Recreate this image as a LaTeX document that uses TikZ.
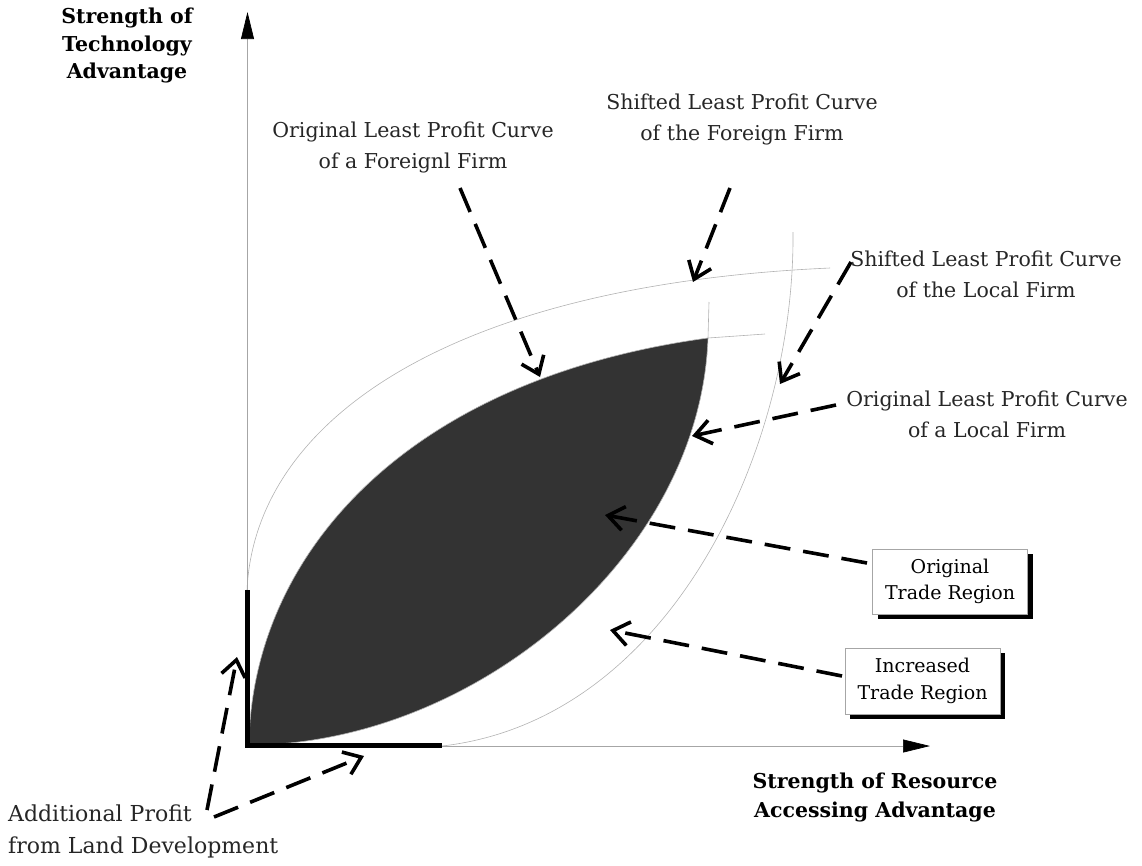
\documentclass[tikz,border=0pt]{standalone}
\usepackage{fontspec}
\setmainfont{DejaVu Serif}
\usetikzlibrary{arrows.meta,shadows}

\begin{document}
\begin{tikzpicture}[x=1pt,y=-1pt,
  hair/.style={draw=black!30, line width=0.6pt},
  axisline/.style={draw=black!35, line width=0.7pt, -{Triangle[length=27pt,width=13pt,color=black]}},
  thickbar/.style={line width=5pt},
  pointer/.style={line width=3.6pt, dash pattern=on 26pt off 13pt,
    -{Straight Barb[length=16pt,width=24pt,line width=3.6pt]}},
  lbl/.style={font=\fontsize{20.5}{31}\selectfont, align=center, text=black!85, inner sep=0pt},
  axislbl/.style={font=\fontsize{20.5}{28}\selectfont\bfseries, align=center, inner sep=0pt},
  tradebox/.style={draw=black!35, line width=0.5pt, fill=white, align=center,
    font=\fontsize{19}{26.5}\selectfont, inner sep=0pt,
    drop shadow={shadow xshift=5pt, shadow yshift=-5pt, fill=black, opacity=1}}
]
\useasboundingbox (0,0) rectangle (1142,865);

% trade region between the two original least profit curves
\fill[black!80] (249,745) .. controls (251,560) and (400,380) .. (708,338)
  .. controls (700,560) and (470,745) .. (249,745) -- cycle;

% least profit curves
\draw[hair] (249,745) .. controls (251,560) and (400,380) .. (708,338) -- (765,334);
\draw[hair] (249,745) .. controls (470,745) and (700,560) .. (708,338) -- (709,302);
\draw[hair] (247,590) .. controls (255,420) and (450,285) .. (830,268);
\draw[hair] (442,746) .. controls (670,720) and (795,450) .. (793,232);

% axes
\coordinate (O) at (247.5,746);
\coordinate (ytop) at (247.5,12);
\coordinate (xend) at (930,746);
\draw[axisline] (O) -- (ytop);
\draw[axisline] (O) -- (xend);

% land development shifts
\coordinate (vb) at (247.5,590);
\coordinate (hb) at (442,745.5);
\draw[thickbar] (247.5,745.5) -- (vb);
\draw[thickbar] (245,745.5) -- (hb);

% labels
\node[axislbl, font=\fontsize{20.5}{27.5}\selectfont\bfseries] (ylab) at (127,45.5) {Strength of\\Technology\\Advantage};
\node[axislbl, font=\fontsize{20.5}{29}\selectfont\bfseries] (xlab) at (875,797.5) {Strength of Resource\\Accessing Advantage};
\node[lbl] (ofor) at (413,147.5) {Original Least Profit Curve\\of a Foreignl Firm};
\node[lbl] (sfor) at (742,119) {Shifted Least Profit Curve\\of the Foreign Firm};
\node[lbl] (sloc) at (986,274) {Shifted Least Profit Curve\\of the Local Firm};
\node[lbl] (oloc) at (987,414) {Original Least Profit Curve\\of a Local Firm};
\node[lbl, font=\fontsize{22}{32}\selectfont, align=left, anchor=west] (land) at (8,831) {Additional Profit\\from Land Development};

% boxed labels
\node[tradebox, minimum width=155pt, minimum height=65pt] (otr) at (950,581.5) {Original\\Trade Region};
\node[tradebox, minimum width=155pt, minimum height=66pt] (itr) at (922.5,681) {Increased\\Trade Region};

% pointer ends
\coordinate (a1) at (460,188);  \coordinate (a2) at (540,377);
\coordinate (b1) at (730,188);  \coordinate (b2) at (693,282);
\coordinate (c1) at (851,262);  \coordinate (c2) at (780,384);
\coordinate (d1) at (836,405);  \coordinate (d2) at (692,436);
\coordinate (e1) at (867,563);  \coordinate (e2) at (605,515);
\coordinate (f1) at (842,676);  \coordinate (f2) at (610,630);
\coordinate (g0) at (207,810);  \coordinate (g1) at (237,657);
\coordinate (h0) at (214,817);  \coordinate (h1) at (364,756);

\draw[pointer] (a1) -- (a2);
\draw[pointer] (b1) -- (b2);
\draw[pointer] (c1) -- (c2);
\draw[pointer] (d1) -- (d2);
\draw[pointer] (e1) -- (e2);
\draw[pointer] (f1) -- (f2);
\draw[pointer] (g0) -- (g1);
\draw[pointer] (h0) -- (h1);
\end{tikzpicture}
\end{document}
